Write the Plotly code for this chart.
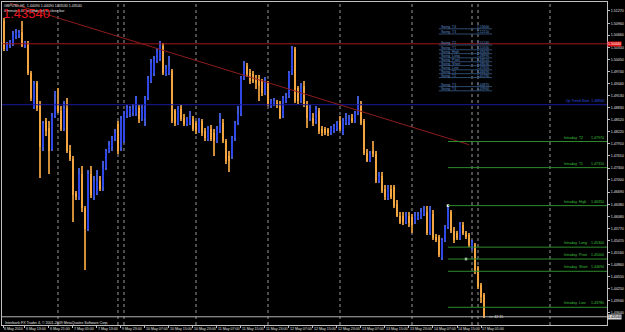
import plotly.graph_objects as go

# ---------------- data (GBPUSD, H1) ----------------
opens = [1.5102,1.5031,1.5041,1.5044,1.5061,1.5066,1.5074,1.5039,1.5046,1.4971,
         1.4882,1.4945,1.4892,1.4782,1.4850,1.4832,1.4779,1.4862,1.4892,1.4875,
         1.4832,1.4882,1.4774,1.4754,1.4666,1.4656,1.4716,1.4630,1.4577,1.4716,
         1.4656,1.4666,1.4698,1.4681,1.4731,1.4774,1.4782,1.4804,1.4842,1.4782,
         1.4799,1.4862,1.4867,1.4870,1.4867,1.4882,1.4855,1.4857,1.4908,1.4950,
         1.4971,1.5001,1.5006,1.5039,1.4968,1.4971,1.4976,1.4875,1.4845,1.4880,
         1.4857,1.4842,1.4845,1.4855,1.4845,1.4824,1.4850,1.4824,1.4804,1.4829,
         1.4819,1.4799,1.4824,1.4845,1.4799,1.4761,1.4761,1.4807,1.4845,1.4867,
         1.4958,1.4988,1.4971,1.4968,1.4955,1.4958,1.4950,1.4920,1.4945,1.4887,
         1.4892,1.4895,1.4892,1.4862,1.4900,1.4913,1.4971,1.5031,1.4933,1.4900,
         1.4938,1.4892,1.4855,1.4857,1.4850,1.4875,1.4829,1.4829,1.4827,1.4819,
         1.4824,1.4829,1.4850,1.4819,1.4845,1.4845,1.4857,1.4850,1.4870,1.4887,
         1.4850,1.4769,1.4749,1.4774,1.4766,1.4698,1.4711,1.4678,1.4653,1.4678,
         1.4681,1.4640,1.4610,1.4610,1.4593,1.4610,1.4605,1.4593,1.4603,1.4605,
         1.4615,1.4618,1.4565,1.4615,1.4555,1.4555,1.4504,1.4547,1.4580,1.4618,
         1.4572,1.4567,1.4552,1.4585,1.4565,1.4560,1.4527,1.4535,1.4477,1.4434,
         1.4409]
highs = [1.5109,1.5049,1.5054,1.5076,1.5081,1.5079,1.5102,1.5051,1.5051,1.4976,
         1.4950,1.4950,1.4900,1.4850,1.4857,1.4850,1.4870,1.4925,1.4933,1.4887,
         1.4900,1.4908,1.4787,1.4761,1.4673,1.4729,1.4736,1.4635,1.4724,1.4736,
         1.4711,1.4724,1.4711,1.4749,1.4779,1.4799,1.4812,1.4829,1.4850,1.4862,
         1.4875,1.4890,1.4887,1.4892,1.4913,1.4890,1.4890,1.4913,1.4963,1.5006,
         1.5013,1.5034,1.5051,1.5046,1.4991,1.5013,1.4981,1.4880,1.4887,1.4890,
         1.4867,1.4860,1.4875,1.4862,1.4850,1.4857,1.4855,1.4832,1.4837,1.4840,
         1.4829,1.4837,1.4870,1.4855,1.4804,1.4774,1.4812,1.4850,1.4887,1.4963,
         1.5001,1.4996,1.4981,1.4976,1.4966,1.4966,1.4955,1.4960,1.4950,1.4905,
         1.4908,1.4903,1.4900,1.4913,1.4920,1.4976,1.5039,1.5036,1.4938,1.4945,
         1.4950,1.4900,1.4890,1.4870,1.4887,1.4882,1.4837,1.4834,1.4832,1.4837,
         1.4842,1.4850,1.4862,1.4857,1.4870,1.4865,1.4867,1.4875,1.4913,1.4900,
         1.4855,1.4779,1.4774,1.4799,1.4774,1.4719,1.4719,1.4686,1.4686,1.4688,
         1.4686,1.4648,1.4618,1.4618,1.4618,1.4618,1.4613,1.4618,1.4618,1.4628,
         1.4635,1.4635,1.4635,1.4623,1.4562,1.4560,1.4552,1.4585,1.4633,1.4623,
         1.4580,1.4572,1.4593,1.4593,1.4572,1.4567,1.4547,1.4540,1.4482,1.4439,
         1.4414]
lows = [1.5026,1.5026,1.5034,1.5039,1.5056,1.5059,1.5036,1.5034,1.4966,1.4900,
        1.4880,1.4875,1.4706,1.4774,1.4812,1.4716,1.4774,1.4857,1.4870,1.4824,
        1.4824,1.4769,1.4749,1.4593,1.4648,1.4648,1.4618,1.4472,1.4572,1.4653,
        1.4648,1.4661,1.4673,1.4673,1.4724,1.4769,1.4774,1.4799,1.4766,1.4774,
        1.4794,1.4857,1.4860,1.4862,1.4862,1.4845,1.4850,1.4837,1.4903,1.4945,
        1.4963,1.4996,1.5001,1.4966,1.4963,1.4966,1.4845,1.4837,1.4840,1.4850,
        1.4837,1.4837,1.4840,1.4824,1.4817,1.4819,1.4812,1.4799,1.4799,1.4799,
        1.4761,1.4794,1.4819,1.4794,1.4741,1.4719,1.4754,1.4799,1.4840,1.4862,
        1.4953,1.4960,1.4943,1.4945,1.4930,1.4900,1.4913,1.4915,1.4887,1.4882,
        1.4887,1.4882,1.4855,1.4857,1.4895,1.4908,1.4966,1.4895,1.4892,1.4895,
        1.4885,1.4832,1.4850,1.4837,1.4842,1.4817,1.4812,1.4814,1.4812,1.4814,
        1.4819,1.4824,1.4824,1.4814,1.4840,1.4840,1.4845,1.4845,1.4865,1.4840,
        1.4764,1.4744,1.4744,1.4759,1.4693,1.4693,1.4666,1.4648,1.4648,1.4651,
        1.4630,1.4605,1.4588,1.4585,1.4588,1.4582,1.4567,1.4588,1.4598,1.4600,
        1.4610,1.4560,1.4560,1.4547,1.4542,1.4504,1.4497,1.4542,1.4575,1.4567,
        1.4540,1.4547,1.4547,1.4560,1.4550,1.4530,1.4522,1.4462,1.4424,1.4388,
        1.4351]
closes = [1.5031,1.5044,1.5049,1.5066,1.5071,1.5074,1.5039,1.5046,1.4971,1.4908,
          1.4943,1.4882,1.4782,1.4842,1.4824,1.4774,1.4862,1.4895,1.4875,1.4829,
          1.4880,1.4774,1.4754,1.4661,1.4656,1.4716,1.4628,1.4577,1.4716,1.4661,
          1.4698,1.4698,1.4678,1.4731,1.4774,1.4787,1.4804,1.4819,1.4774,1.4855,
          1.4867,1.4882,1.4880,1.4882,1.4905,1.4855,1.4882,1.4908,1.4955,1.4996,
          1.5006,1.5026,1.5039,1.4971,1.4983,1.4988,1.4850,1.4845,1.4880,1.4855,
          1.4842,1.4855,1.4857,1.4829,1.4824,1.4850,1.4819,1.4807,1.4829,1.4804,
          1.4799,1.4829,1.4845,1.4799,1.4749,1.4749,1.4807,1.4845,1.4867,1.4958,
          1.4988,1.4968,1.4950,1.4950,1.4945,1.4938,1.4920,1.4950,1.4892,1.4900,
          1.4900,1.4887,1.4857,1.4908,1.4908,1.4971,1.5031,1.4900,1.4900,1.4933,
          1.4892,1.4857,1.4882,1.4845,1.4880,1.4824,1.4819,1.4819,1.4819,1.4832,
          1.4837,1.4845,1.4829,1.4850,1.4855,1.4855,1.4850,1.4870,1.4887,1.4845,
          1.4769,1.4749,1.4766,1.4766,1.4698,1.4711,1.4673,1.4656,1.4678,1.4656,
          1.4635,1.4610,1.4593,1.4593,1.4610,1.4590,1.4585,1.4610,1.4610,1.4618,
          1.4623,1.4565,1.4618,1.4552,1.4547,1.4509,1.4547,1.4580,1.4623,1.4572,
          1.4547,1.4552,1.4585,1.4565,1.4555,1.4535,1.4540,1.4467,1.4429,1.4404,
          1.4354]

time_tick_bars = [-0.3, 7, 15, 23, 31, 39, 47, 55, 63, 71, 79, 87, 95, 103, 111,
                  119, 127, 135, 143, 151, 159]
time_tick_labels = ["6 May 2010", "6 May 13:00", "6 May 21:00", "7 May 05:00",
                    "7 May 13:00", "9 May 23:00", "10 May 07:00", "10 May 15:00",
                    "10 May 23:00", "11 May 07:00", "11 May 15:00", "11 May 23:00",
                    "12 May 07:00", "12 May 15:00", "12 May 23:00", "13 May 07:00",
                    "13 May 15:00", "13 May 23:00", "14 May 07:00", "14 May 15:00",
                    "17 May 01:00"]
price_tick_labels = ["1.51270", "1.50960", "1.50660", "1.50350", "1.50050", "1.49740",
                     "1.49440", "1.49130", "1.48830", "1.48520", "1.48220", "1.47910",
                     "1.47610", "1.47300", "1.47000", "1.46690", "1.46380", "1.46080",
                     "1.45770", "1.45470", "1.45160", "1.44860", "1.44550", "1.44250",
                     "1.43940", "1.43640", "1.43330"]
day_separator_bars = [18, 38, 40, 64, 88, 112, 136, 156, 158, 182]

resistance_level = 1.5044
uptrend_level = 1.4890
intraday_names = ["Intraday  T2", "Intraday  T1", "Intraday  High", "Intraday  Long",
                  "Intraday  Pivot", "Intraday  Short", "Intraday  Low"]
intraday_values = [1.4797, 1.4731, 1.4635, 1.4530, 1.4500, 1.4469, 1.4378]
intraday_start_bar = 148
marker_bars = [148, 154]
marker_prices = [1.4635, 1.4500]
trend_bars = [2, 155]
trend_prices = [1.5147, 1.4789]
current_price = 1.4354

swing_names = ["Swing  T4", "Swing  T3", "Swing  T2", "Swing  T1", "Swing  High",
               "Swing  Long", "Swing  Pivot", "Swing  Short", "Swing  Low",
               "Swing  T1", "Swing  T2", "Swing  T3", "Swing  T4"]
swing_values = ["1.53060", "1.52150", "1.51240", "1.50330", "1.49420", "1.48990",
                "1.48510", "1.48030", "1.47600", "1.46690", "1.45780", "1.44870",
                "1.43960"]

# ---------------- figure ----------------
BULL = "#3048E8"
BEAR = "#F2A540"
n = len(closes)
idx = list(range(n))
bull = [c >= o for o, c in zip(opens, closes)]
body_base = [min(o, c) for o, c in zip(opens, closes)]
body_h = [max(abs(c - o), 0.00022) for o, c in zip(opens, closes)]
colors = [BULL if b else BEAR for b in bull]
wick_colors = ["#4058D0" if b else "#D08E38" for b in bull]

fig = go.Figure()
fig.add_trace(go.Bar(x=idx, y=[h - l for h, l in zip(highs, lows)], base=lows,
                     width=0.34, marker=dict(color=wick_colors, line=dict(width=0)),
                     hoverinfo="skip", showlegend=False))
fig.add_trace(go.Bar(x=idx, y=body_h, base=body_base, width=0.68,
                     marker=dict(color=colors, line=dict(width=0)),
                     showlegend=False))
fig.add_trace(go.Scatter(x=marker_bars, y=marker_prices, mode="markers",
                         marker=dict(symbol="square", size=2.5, color="#FFFFFF"),
                         hoverinfo="skip", showlegend=False))

shapes = []
for b in day_separator_bars:
    shapes.append(dict(type="line", xref="x", yref="paper", x0=b, x1=b, y0=0, y1=1,
                       line=dict(color="#9A9A9A", width=1, dash="dot"), layer="below"))
shapes.append(dict(type="line", xref="paper", yref="y", x0=0, x1=1,
                   y0=resistance_level, y1=resistance_level,
                   line=dict(color="#A01818", width=1)))
shapes.append(dict(type="line", xref="paper", yref="y", x0=0, x1=1,
                   y0=uptrend_level, y1=uptrend_level,
                   line=dict(color="#1A1AA0", width=1)))
shapes.append(dict(type="line", xref="x", yref="y", x0=trend_bars[0], x1=trend_bars[1],
                   y0=trend_prices[0], y1=trend_prices[1],
                   line=dict(color="#8E1C1C", width=1)))
for v in intraday_values:
    shapes.append(dict(type="line", xref="x", yref="y", x0=intraday_start_bar, x1=201,
                       y0=v, y1=v, line=dict(color="#2E8B2E", width=1)))
shapes.append(dict(type="line", xref="paper", yref="y", x0=0, x1=1,
                   y0=current_price, y1=current_price,
                   line=dict(color="#B0B0B0", width=1)))

ann = []
F = "Liberation Sans"
ann.append(dict(xref="paper", yref="paper", x=0.0, y=1.0, xanchor="left", yanchor="top",
                text="GBPUSD,H1  1.44090 1.44090 1.43530 1.43540", showarrow=False,
                font=dict(family=F, size=3.6, color="#E0E0E0")))
ann.append(dict(xref="paper", yref="paper", x=0.0, y=0.983, xanchor="left", yanchor="top",
                text="0 minutes 42 seconds left to close bar", showarrow=False,
                font=dict(family=F, size=3.6, color="#E0E0E0")))
ann.append(dict(xref="paper", yref="paper", x=-0.001, y=0.995, xanchor="left", yanchor="top",
                text="1.43540", showarrow=False,
                font=dict(family=F, size=13, color="#E8141E")))
ann.append(dict(xref="paper", yref="y", x=0.001, y=1.4339, xanchor="left", yanchor="middle",
                text="Interbank FX Trader 4, \u00a9 2001-2009 MetaQuotes Software Corp.",
                showarrow=False, font=dict(family=F, size=3.6, color="#E0E0E0")))
ann.append(dict(xref="paper", yref="y", x=0.998, y=uptrend_level, xanchor="right",
                yanchor="bottom", text="Up Trend Start  1.48900", showarrow=False,
                font=dict(family=F, size=3.6, color="#3050E0")))
for name, v in zip(intraday_names, intraday_values):
    ann.append(dict(xref="paper", yref="y", x=0.925, y=v, xanchor="left", yanchor="bottom",
                    text=name, showarrow=False,
                    font=dict(family=F, size=3.6, color="#3CC03C")))
    ann.append(dict(xref="paper", yref="y", x=0.998, y=v, xanchor="right", yanchor="bottom",
                    text="%.5f" % v, showarrow=False,
                    font=dict(family=F, size=3.6, color="#3CC03C")))
ann.append(dict(xref="x", yref="y", x=161, y=current_price, xanchor="left", yanchor="middle",
                text="<< 42:15", showarrow=False,
                font=dict(family=F, size=3.6, color="#E0E0E0")))
# right-axis boxes
ann.append(dict(xref="paper", yref="y", x=1.0, y=resistance_level, xanchor="left",
                yanchor="middle", text="1.50440", showarrow=False, bgcolor="#E01010",
                borderpad=0, font=dict(family=F, size=3.6, color="#FFFFFF")))
ann.append(dict(xref="paper", yref="y", x=1.0, y=current_price, xanchor="left",
                yanchor="middle", text="1.43540", showarrow=False, bgcolor="#D8D8D8",
                borderpad=0, font=dict(family=F, size=3.6, color="#000000")))
# swing panel
swing_y = [0.923, 0.907, 0.873, 0.858, 0.846, 0.833, 0.821, 0.809, 0.796, 0.784, 0.772,
           0.744, 0.731]
for name, val, yy in zip(swing_names, swing_values, swing_y):
    ann.append(dict(xref="paper", yref="paper", x=0.722, y=yy, xanchor="left",
                    yanchor="middle", text=name, showarrow=False,
                    font=dict(family=F, size=3.4, color="#5F8FC8")))
    ann.append(dict(xref="paper", yref="paper", x=0.808, y=yy, xanchor="right",
                    yanchor="middle", text=val, showarrow=False,
                    font=dict(family=F, size=3.4, color="#5F8FC8")))
    shapes.append(dict(type="line", xref="paper", yref="paper", x0=0.722, x1=0.81,
                       y0=yy - 0.006, y1=yy - 0.006, line=dict(color="#2C4A70", width=1)))

fig.update_layout(
    width=625, height=332,
    margin=dict(l=2, r=14, t=1, b=7),
    paper_bgcolor="#000000", plot_bgcolor="#000000",
    barmode="overlay", bargap=0, showlegend=False,
    shapes=shapes, annotations=ann,
    xaxis=dict(range=[-0.66, 201.0], showgrid=False, zeroline=False,
               tickmode="array", tickvals=time_tick_bars, ticktext=time_tick_labels,
               tickangle=0,
               ticks="outside", ticklen=2, tickcolor="#C0C0C0",
               ticklabelposition="outside right",
               tickfont=dict(family=F, size=3.6, color="#E0E0E0"),
               showline=True, linecolor="#C0C0C0", linewidth=1, mirror=True),
    yaxis=dict(range=[1.43332, 1.51497], side="right", showgrid=False, zeroline=False,
               tickmode="array", tickvals=[float(t) for t in price_tick_labels],
               ticktext=price_tick_labels, ticks="outside", ticklen=2,
               tickcolor="#C0C0C0",
               tickfont=dict(family=F, size=3.6, color="#E0E0E0"),
               showline=True, linecolor="#C0C0C0", linewidth=1, mirror=True),
)

fig.write_html("out.html")
